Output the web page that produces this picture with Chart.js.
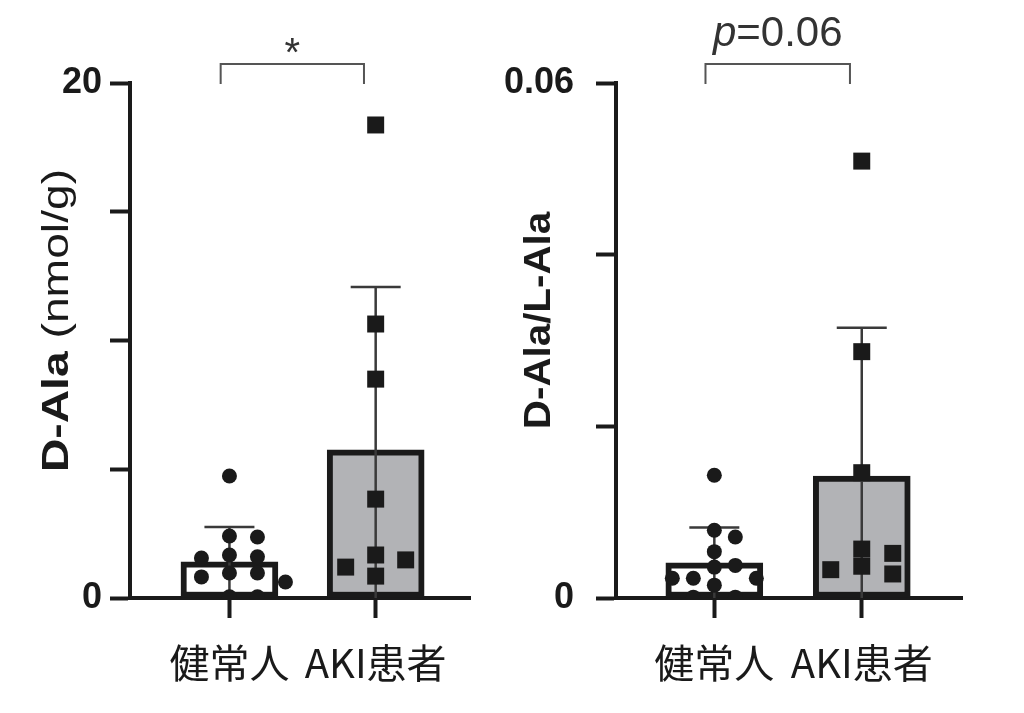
<!DOCTYPE html>
<html>
<head>
<meta charset="utf-8">
<script src="https://cdn.jsdelivr.net/npm/chart.js@4.4.1/dist/chart.umd.min.js"></script>
<style>
  html, body { margin: 0; padding: 0; background: #fff; }
  #wrap { position: relative; width: 1024px; height: 713px; }
  .panel { position: absolute; top: 0; height: 713px; }
  #left { left: 0; width: 490px; }
  #right { left: 490px; width: 534px; }
</style>
</head>
<body>
<div id="wrap">
  <div class="panel" id="left"><canvas id="c1"></canvas></div>
  <div class="panel" id="right"><canvas id="c2"></canvas></div>
</div>
<script>
// data
const categories = ['健常人', 'AKI患者'];

const dalaHealthy = [4.74, 2.41, 2.37, 1.67, 1.6, 1.55, 0.97, 0.97, 0.82, 0.62, 0.05, 0.05];
const dalaAki = [18.37, 10.64, 8.5, 3.84, 1.67, 1.48, 1.2, 0.85];
const dalaMean = [1.4, 5.75];
const dalaSd = [1.36, 6.33];
const dalaTickValues = [0, 20];
const dalaTickLabels = ['0', '20'];

const ratioHealthy = [0.0143, 0.0079, 0.0071, 0.0054, 0.0038, 0.0036, 0.0023, 0.0023, 0.0023, 0.0015, 0.0001, 0.0001];
const ratioAki = [0.0509, 0.0287, 0.0146, 0.0057, 0.0052, 0.0037, 0.0033, 0.0028];
const ratioMean = [0.0041, 0.0142];
const ratioSd = [0.0041, 0.0173];
const ratioTickValues = [0, 0.06];
const ratioTickLabels = ['0', '0.06'];

const INK = '#1a1a1a';
const SANS = '"Liberation Sans", Arial, sans-serif';
const CJK = '"Noto Sans CJK JP", "Noto Sans", sans-serif';

// column scatter spread: top point first, each one takes the nearest free slot
// on a half-gap grid around the category centre
function swarm(ys, gap, size) {
  const order = ys.map((y, i) => i).sort((a, b) => ys[a] - ys[b]);
  const step = gap / 2;
  const placed = [];
  const out = new Array(ys.length).fill(0);
  order.forEach(i => {
    const y = ys[i];
    let x = 0;
    for (let k = 0; k < 60; k++) {
      const c = (k % 2 ? 1 : -1) * Math.ceil(k / 2) * step;
      if (placed.every(p => Math.abs(p.x - c) >= gap - 0.01 || Math.abs(p.y - y) >= size)) { x = c; break; }
    }
    out[i] = x;
    placed.push({ x, y });
  });
  return out;
}

function makePanel(id, p) {
  const swarmPlugin = {
    id: 'swarm',
    afterDatasetsUpdate(chart) {
      chart.data.datasets.forEach((ds, di) => {
        if (ds.type !== 'scatter') return;
        const pts = chart.getDatasetMeta(di).data;
        const offs = swarm(pts.map(e => e.y), ds.swarmGap, ds.swarmSize);
        pts.forEach((e, k) => { e.x += offs[k]; });
      });
    }
  };

  const errorBars = {
    id: 'errorBars',
    afterDatasetDraw(chart, args) {
      if (args.index !== 0) return;
      const ctx = chart.ctx, xs = chart.scales.x, ys = chart.scales.y;
      ctx.save();
      ctx.strokeStyle = '#3a3a3a';
      ctx.lineWidth = 2.5;
      p.mean.forEach((m, i) => {
        const x = xs.getPixelForValue(i);
        const top = ys.getPixelForValue(m + p.sd[i]);
        const bot = ys.getPixelForValue(Math.max(0, m - p.sd[i]));
        ctx.beginPath();
        ctx.moveTo(x, bot); ctx.lineTo(x, top);
        ctx.moveTo(x - 25, top); ctx.lineTo(x + 25, top);
        ctx.stroke();
      });
      ctx.restore();
    }
  };

  const labels = {
    id: 'labels',
    afterDraw(chart) {
      const ctx = chart.ctx, a = chart.chartArea, xs = chart.scales.x;
      // y axis title, mixed weights, drawn rotated
      ctx.save();
      ctx.translate(a.left - p.titleDx, (a.top + a.bottom) / 2 - 20);
      ctx.rotate(-Math.PI / 2);
      ctx.scale(p.titleStretch, 1);
      ctx.fillStyle = INK;
      ctx.textBaseline = 'middle';
      ctx.textAlign = 'left';
      let total = 0;
      p.title.forEach(t => {
        ctx.font = `${t.weight} ${p.titleSize}px ${SANS}`;
        t.w = ctx.measureText(t.text).width;
        total += t.w;
      });
      let x = -total / 2;
      p.title.forEach(t => {
        ctx.font = `${t.weight} ${p.titleSize}px ${SANS}`;
        ctx.fillText(t.text, x, 0);
        x += t.w;
      });
      ctx.restore();

      // significance bracket
      const x0 = xs.getPixelForValue(-0.06), x1 = xs.getPixelForValue(0.92);
      const yTop = a.top - 19, yBot = a.top + 1;
      ctx.save();
      ctx.strokeStyle = '#555';
      ctx.lineWidth = 2;
      ctx.beginPath();
      ctx.moveTo(x0, yBot); ctx.lineTo(x0, yTop); ctx.lineTo(x1, yTop); ctx.lineTo(x1, yBot);
      ctx.stroke();
      ctx.fillStyle = '#333';
      ctx.textBaseline = 'alphabetic';
      let sw = 0;
      p.sig.forEach(t => {
        ctx.font = `${t.style} ${t.size}px ${SANS}`;
        t.w = ctx.measureText(t.text).width;
        sw += t.w;
      });
      let sx = (x0 + x1) / 2 - sw / 2;
      p.sig.forEach(t => {
        ctx.font = `${t.style} ${t.size}px ${SANS}`;
        ctx.fillText(t.text, sx, a.top - p.sigDy);
        sx += t.w;
      });
      ctx.restore();
    }
  };

  new Chart(document.getElementById(id), {
    type: 'scatter',
    data: {
      datasets: [
        {
          type: 'bar',
          data: p.mean.map((m, i) => ({ x: i, y: m })),
          backgroundColor: ['#ffffff', '#b2b3b6'],
          borderColor: INK,
          borderWidth: 6,
          borderSkipped: false,
          barThickness: 97,
          order: 2
        },
        {
          type: 'scatter',
          data: p.healthy.map(v => ({ x: 0, y: v })),
          pointStyle: 'circle',
          pointRadius: 7.5,
          backgroundColor: INK,
          borderWidth: 0,
          swarmGap: p.dotGap,
          swarmSize: 15,
          order: 0
        },
        {
          type: 'scatter',
          data: p.aki.map(v => ({ x: 1, y: v })),
          pointStyle: 'rect',
          pointRadius: 12,
          backgroundColor: INK,
          borderWidth: 0,
          swarmGap: p.squareGap,
          swarmSize: 17,
          order: 0
        }
      ]
    },
    options: {
      responsive: true,
      maintainAspectRatio: false,
      animation: false,
      layout: { padding: { top: 83, right: p.padRight, left: 0, bottom: 0 } },
      plugins: { legend: { display: false }, tooltip: { enabled: false } },
      scales: {
        x: {
          type: 'linear',
          min: p.xMin,
          max: p.xMax,
          offset: false,
          grid: { drawOnChartArea: false, offset: false, tickLength: 20, tickWidth: 4, tickColor: INK },
          border: { display: true, width: 4, color: INK },
          afterBuildTicks: s => { s.ticks = categories.map((c, i) => ({ value: i })); },
          afterFit: s => { s.height = 115; },
          ticks: {
            autoSkip: false,
            maxRotation: 0,
            padding: 21,
            color: INK,
            font: { family: CJK, size: 40 },
            callback: v => categories[v] ?? ''
          }
        },
        y: {
          min: 0,
          max: p.max,
          grid: { drawOnChartArea: false, tickLength: 20, tickWidth: 4, tickColor: INK },
          border: { display: true, width: 4, color: INK },
          afterFit: s => { s.width = p.axisLeft; },
          ticks: {
            stepSize: p.step,
            padding: p.tickPad,
            color: INK,
            font: { family: SANS, size: 36, weight: 'bold' },
            callback: v => {
              const k = p.tickValues.findIndex(t => Math.abs(t - v) < p.step / 100);
              return k >= 0 ? p.tickLabels[k] : '';
            }
          }
        }
      }
    },
    plugins: [swarmPlugin, errorBars, labels]
  });
}

makePanel('c1', {
  healthy: dalaHealthy, aki: dalaAki, mean: dalaMean, sd: dalaSd,
  max: 20, step: 5, tickValues: dalaTickValues, tickLabels: dalaTickLabels,
  xMin: -0.68, xMax: 1.645, axisLeft: 130, padRight: 20, tickPad: 8,
  dotGap: 28, squareGap: 30,
  title: [{ text: 'D-Ala', weight: 'bold' }, { text: ' (nmol/g)', weight: 'normal' }],
  titleSize: 37, titleStretch: 1.25, titleDx: 72,
  sig: [{ text: '*', style: 'normal', size: 40 }], sigDy: 17
});

makePanel('c2', {
  healthy: ratioHealthy, aki: ratioAki, mean: ratioMean, sd: ratioSd,
  max: 0.06, step: 0.02, tickValues: ratioTickValues, tickLabels: ratioTickLabels,
  xMin: -0.667, xMax: 1.68, axisLeft: 126, padRight: 62, tickPad: 22,
  dotGap: 21, squareGap: 31,
  title: [{ text: 'D-Ala/L-Ala', weight: 'bold' }],
  titleSize: 36, titleStretch: 1.12, titleDx: 76,
  sig: [{ text: 'p', style: 'italic', size: 42 }, { text: '=0.06', style: 'normal', size: 42 }], sigDy: 37
});
</script>
</body>
</html>
